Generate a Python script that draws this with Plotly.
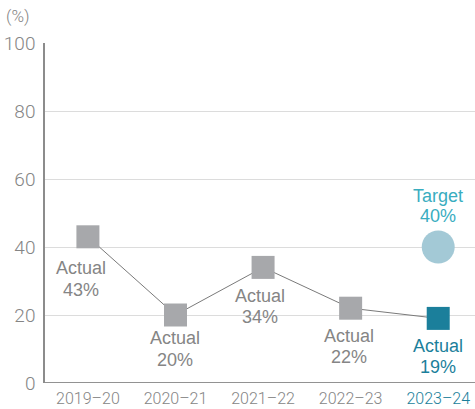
import plotly.graph_objects as go

years = ["2019–20", "2020–21", "2021–22", "2022–23", "2023–24"]
actual = [43, 20, 34, 22, 19]
target_val = 40
y_ticks = [0, 20, 40, 60, 80, 100]

GRAY_MARK = "#a7a8ab"
TEAL = "#1b7f9b"
TARGET_TXT = "#39adbf"
TARGET_DOT = "#a3c9d6"
TXT = "#858585"
TICKFONT = "Roboto, sans-serif"
LBLFONT = "Liberation Sans, Arial, sans-serif"

xs = list(range(len(years)))
fig = go.Figure()
fig.add_trace(go.Scatter(
    x=xs, y=actual, mode="lines+markers",
    line=dict(color="#7a7a7a", width=1),
    marker=dict(symbol="square", size=23,
                color=[GRAY_MARK] * 4 + [TEAL], line=dict(width=0)),
    hoverinfo="skip", showlegend=False))
fig.add_trace(go.Scatter(
    x=[xs[-1]], y=[target_val], mode="markers",
    marker=dict(symbol="circle", size=33, color=TARGET_DOT, line=dict(width=0)),
    hoverinfo="skip", showlegend=False))

# pixel offsets (x, first line y, second line y) below each marker centre
offs = [(-7, 31, 53), (0, 23, 45), (-3, 29, 50), (-2, 28, 49), (0, 28, 49)]
for i, (v, (dx, d1, d2)) in enumerate(zip(actual, offs)):
    col = TEAL if i == len(actual) - 1 else TXT
    for txt, d in (("Actual", d1), (f"{v}%", d2)):
        fig.add_annotation(x=xs[i], y=v, text=txt, showarrow=False,
                           xanchor="center", yanchor="middle", xshift=dx, yshift=-d,
                           font=dict(family=LBLFONT, size=18, color=col))
for txt, d in (("Target", 51), (f"{target_val}%", 31)):
    fig.add_annotation(x=xs[-1], y=target_val, text=txt, showarrow=False,
                       xanchor="center", yanchor="middle", yshift=d,
                       font=dict(family=LBLFONT, size=18, color=TARGET_TXT))
fig.add_annotation(xref="paper", yref="paper", x=-0.062, y=1.0, yshift=27,
                   text="(%)", showarrow=False, xanchor="center", yanchor="middle",
                   font=dict(family=TICKFONT, size=17, color=TXT, weight=300))

fig.update_xaxes(
    range=[-0.49, 4.42], tickmode="array", tickvals=xs,
    ticktext=years[:-1] + [f"<span style='color:{TEAL}'>{years[-1]}</span>"],
    showgrid=False, zeroline=False, showline=False, ticklabelstandoff=4,
    ticks="", tickfont=dict(family=TICKFONT, size=16, color=TXT, weight=300),
    fixedrange=True)
fig.update_yaxes(
    range=[0, 100], tickmode="array", tickvals=y_ticks,
    showgrid=True, gridcolor="#dcdcdc", gridwidth=1, zeroline=False,
    showline=True, linecolor="#8c8c8c", linewidth=1.5, ticks="",
    ticklabelstandoff=4,
    tickfont=dict(family=TICKFONT, size=19, color=TXT, weight=300), fixedrange=True)
fig.add_shape(type="line", xref="paper", yref="y", x0=0, x1=1, y0=0, y1=0,
              line=dict(color="#6e6e6e", width=1.5))

fig.update_layout(width=475, height=409, margin=dict(l=45, r=0, t=43, b=26),
                  plot_bgcolor="white", paper_bgcolor="white")
fig.write_html("out.html")
